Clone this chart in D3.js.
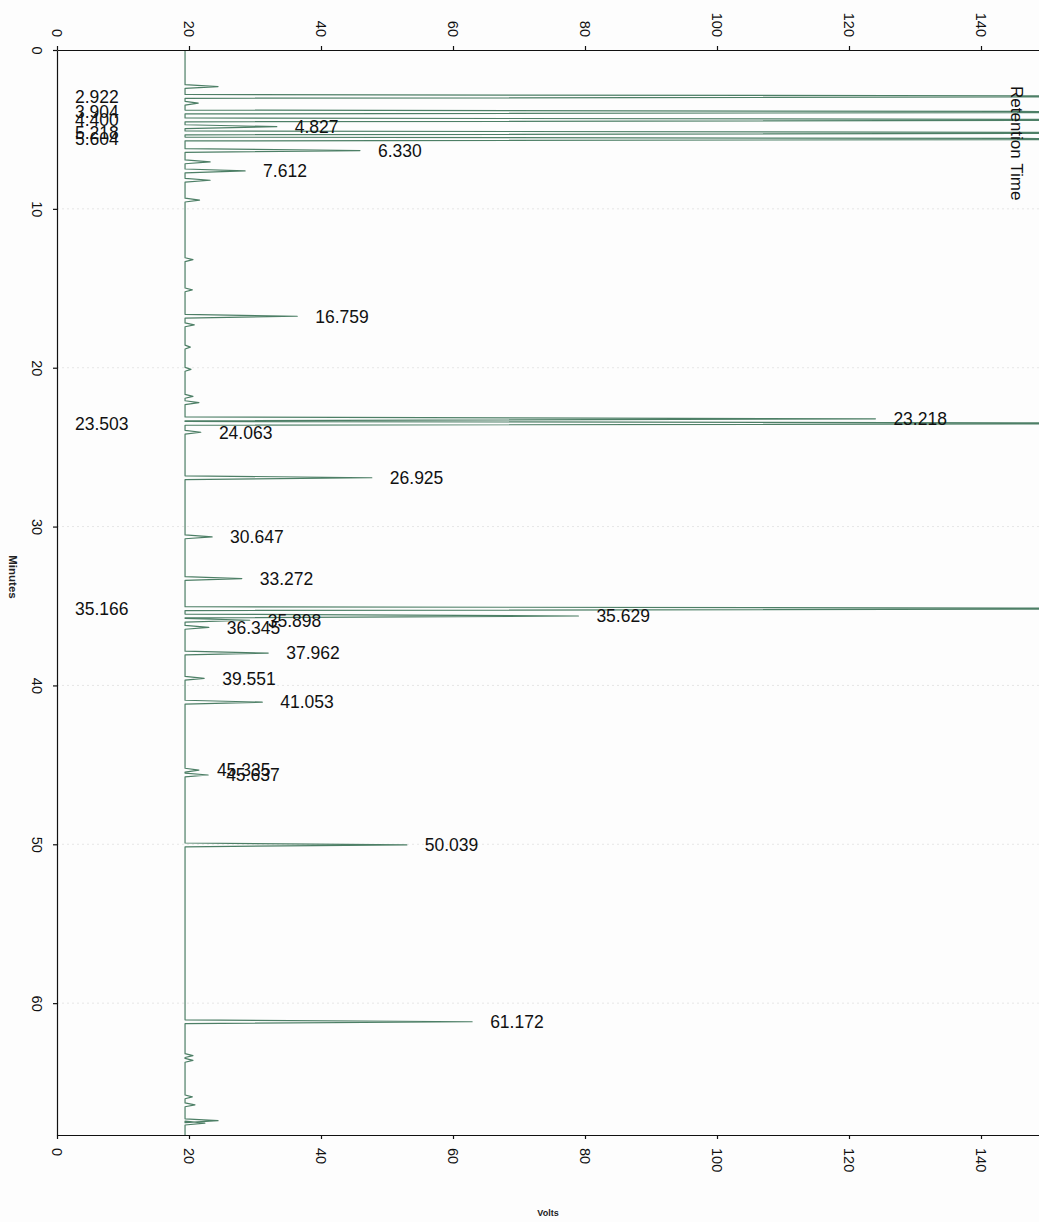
<!doctype html>
<html lang="en">
  <head>
    <meta charset="utf-8">
    <title>chromatogram</title>
    <style>
      body { margin: 0; background: #fdfdfd; }
      svg { display: block; font-family: "Liberation Sans", Arial, sans-serif; }
      .axis path, .axis line { stroke: #111; stroke-width: 1.2; }
      .axis text { font-size: 14.5px; fill: #111; }
      .trace { fill: none; stroke: #4d7f66; stroke-width: 1.2; stroke-linejoin: round; }
      .peak-label { font-size: 17.5px; fill: #111; }
      .grid line { stroke: #e6e6e6; stroke-dasharray: 2,3; }
    </style>
  </head>
  <body>
    <div class="chart"></div>
  <script src="https://cdn.jsdelivr.net/npm/d3@7"></script>
  <script>
    // labelled peaks (retention time in minutes, apex in volts; 200 = off scale)
    const namedPeakTimes = [2.922, 3.904, 4.400, 4.827, 5.218, 5.604, 6.330, 7.612, 16.759,
      23.218, 23.503, 24.063, 26.925, 30.647, 33.272, 35.166, 35.629, 35.898, 36.345,
      37.962, 39.551, 41.053, 45.335, 45.637, 50.039, 61.172];
    const namedPeakVolts = [200, 200, 200, 33.3, 200, 200, 45.9, 28.5, 36.4,
      124, 200, 21.8, 47.7, 23.5, 28.0, 200, 79, 29.2, 23.0,
      32.0, 22.3, 31.1, 21.5, 22.9, 53.0, 62.9];

    // small unlabelled bumps on the baseline
    const minorPeakTimes = [2.3, 3.35, 7.04, 8.2, 9.45, 13.2, 15.1, 17.3, 18.7, 20.1,
      21.8, 22.2, 63.3, 63.6, 65.9, 66.4, 67.4, 67.55];
    const minorPeakVolts = [24.4, 21.4, 23.2, 23.2, 21.6, 20.6, 20.5, 20.8, 20.2, 20.3,
      20.6, 21.5, 20.6, 20.6, 20.5, 20.9, 24.4, 22.4];

    const baselineVolts = 19.4;
    const halfWidth = 0.12;
    const voltTicks = [0, 20, 40, 60, 80, 100, 120, 140];
    const minuteTicks = [0, 10, 20, 30, 40, 50, 60];

    const W = 1039, H = 1222;
    const margin = {top: 50, left: 57};
    const plotW = 990, plotH = 1085;

    const xScale = d3.scaleLinear().domain([0, 150]).range([margin.left, margin.left + plotW]);
    const yScale = d3.scaleLinear().domain([0, 68.3]).range([margin.top, margin.top + plotH]);

    const svg = d3.select('.chart').append('svg')
        .attr('width', W)
        .attr('height', H);

    svg.append('defs').append('clipPath').attr('id', 'plot')
      .append('rect')
        .attr('x', margin.left).attr('y', margin.top)
        .attr('width', plotW).attr('height', plotH);

    // faint scan gridlines
    svg.append('g').attr('class', 'grid')
      .selectAll('line')
      .data(minuteTicks.slice(1))
      .enter().append('line')
        .attr('x1', margin.left).attr('x2', W)
        .attr('y1', d => yScale(d)).attr('y2', d => yScale(d));

    function buildTrace() {
      const peaks = namedPeakTimes.map((t, i) => ({t, v: namedPeakVolts[i]}))
        .concat(minorPeakTimes.map((t, i) => ({t, v: minorPeakVolts[i]})))
        .sort((a, b) => a.t - b.t);
      const pts = [{t: 0, v: baselineVolts}];
      peaks.forEach(p => {
        pts.push({t: p.t - halfWidth, v: baselineVolts});
        pts.push({t: p.t, v: p.v});
        pts.push({t: p.t + halfWidth, v: baselineVolts});
      });
      pts.push({t: 68.3, v: baselineVolts});
      return pts;
    }

    const line = d3.line()
        .x(d => xScale(d.v))
        .y(d => yScale(d.t));

    svg.append('path')
        .attr('class', 'trace')
        .attr('clip-path', 'url(#plot)')
        .attr('d', line(buildTrace()));

    // axes
    const topAxis = svg.append('g')
        .attr('class', 'axis')
        .attr('transform', `translate(0,${margin.top})`)
        .call(d3.axisTop(xScale).tickValues(voltTicks).tickSize(4).tickSizeOuter(0));
    topAxis.selectAll('text')
        .attr('transform', 'rotate(90)')
        .attr('x', -13).attr('y', 0).attr('dy', '0.35em')
        .attr('text-anchor', 'end');

    const bottomAxis = svg.append('g')
        .attr('class', 'axis')
        .attr('transform', `translate(0,${margin.top + plotH})`)
        .call(d3.axisBottom(xScale).tickValues(voltTicks).tickSize(4).tickSizeOuter(0));
    bottomAxis.selectAll('text')
        .attr('transform', 'rotate(90)')
        .attr('x', 13).attr('y', 0).attr('dy', '0.35em')
        .attr('text-anchor', 'start');

    const leftAxis = svg.append('g')
        .attr('class', 'axis')
        .attr('transform', `translate(${margin.left},0)`)
        .call(d3.axisLeft(yScale).tickValues(minuteTicks).tickSize(4).tickSizeOuter(0));
    leftAxis.selectAll('text')
        .attr('transform', 'rotate(90)')
        .attr('x', 0).attr('y', 25).attr('dy', 0)
        .attr('text-anchor', 'middle');

    // peak labels
    svg.append('g').selectAll('text')
      .data(namedPeakTimes.map((t, i) => ({t, v: namedPeakVolts[i]})))
      .enter().append('text')
        .attr('class', 'peak-label')
        .attr('x', d => xScale(d.v) + 18 > W - 60 ? 75 : xScale(d.v) + 18)
        .attr('y', d => yScale(d.t))
        .attr('dy', '0.36em')
        .text(d => d.t.toFixed(3));

    svg.append('text')
        .attr('transform', 'translate(1011,86) rotate(90)')
        .attr('font-size', 17)
        .attr('fill', '#111')
        .text('Retention Time');

    svg.append('text')
        .attr('transform', 'translate(9,577) rotate(90)')
        .attr('text-anchor', 'middle')
        .attr('font-size', 11.5)
        .attr('font-weight', 'bold')
        .attr('fill', '#222')
        .text('Minutes');

    svg.append('text')
        .attr('x', 548).attr('y', 1216)
        .attr('text-anchor', 'middle')
        .attr('font-size', 9)
        .attr('font-weight', 'bold')
        .attr('fill', '#222')
        .text('Volts');
  </script>
  </body>
</html>
